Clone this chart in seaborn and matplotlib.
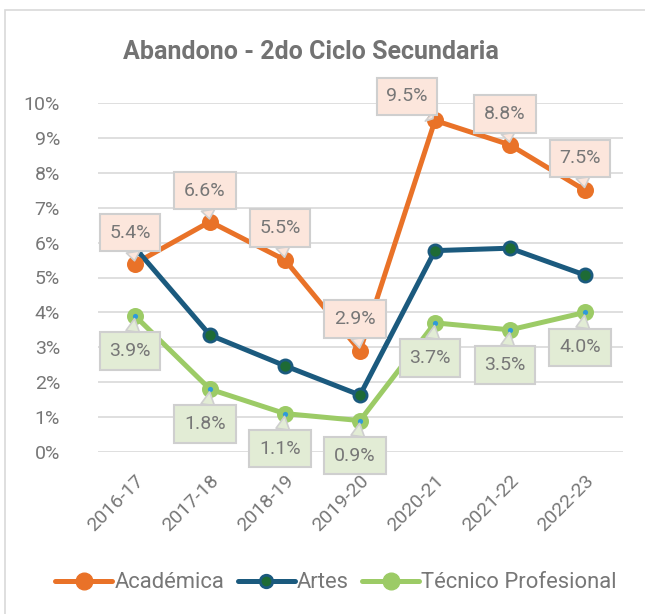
import matplotlib
matplotlib.use("Agg")
import matplotlib.pyplot as plt
import seaborn as sns
import pandas as pd
from matplotlib.patches import Rectangle
from matplotlib.lines import Line2D

years = ["2016-17", "2017-18", "2018-19", "2019-20", "2020-21", "2021-22", "2022-23"]
academica = [5.4, 6.6, 5.5, 2.9, 9.5, 8.8, 7.5]
artes = [5.85, 3.35, 2.47, 1.63, 5.77, 5.84, 5.07]
tecnico = [3.9, 1.8, 1.1, 0.9, 3.7, 3.5, 4.0]
series_names = ["Académica", "Artes", "Técnico Profesional"]

sns.set_theme(style="white")
plt.rcParams['font.family'] = ['Roboto', 'DejaVu Sans']

GRAY = "#777777"
C_ACA = "#E97228"
C_ART = "#1B5A7E"
C_TEC = "#9CCB66"

df = pd.DataFrame({
    "year": years * 3,
    "x": list(range(len(years))) * 3,
    "value": academica + artes + tecnico,
    "serie": [series_names[0]] * 7 + [series_names[1]] * 7 + [series_names[2]] * 7,
})

fig = plt.figure(figsize=(6.45, 6.14), dpi=100)
ax = fig.add_axes([97.5 / 645, 1 - 452 / 614, 525 / 645, (452 - 103) / 614])

# gridlines
for v in range(0, 11):
    ax.axhline(v, color="#D9D9D9", lw=1.2, zorder=0)

palette = {series_names[0]: C_ACA, series_names[1]: C_ART, series_names[2]: C_TEC}
sns.lineplot(data=df, x="x", y="value", hue="serie", palette=palette, lw=3.6,
             ax=ax, legend=False, zorder=2)
for line in ax.get_lines()[-3:]:
    line.set_solid_capstyle("round")
    line.set_clip_on(False)

# markers
ax.scatter(range(7), academica, s=150, color=C_ACA, zorder=3, clip_on=False, linewidths=0)
ax.scatter(range(7), artes, s=90, color="#1E6B35", edgecolors=C_ART, linewidths=2, zorder=3, clip_on=False)
ax.scatter(range(7), tecnico, s=150, color=C_TEC, zorder=3, clip_on=False, linewidths=0)
ax.scatter(range(7), tecnico, s=14, color="#2E9AD9", zorder=4, clip_on=False, linewidths=0)

ax.set_xlim(-0.5, 6.5)
ax.set_ylim(0, 10)
ax.set_yticks(range(0, 11))
ax.set_yticklabels([f"{v}%" for v in range(0, 11)], color=GRAY, fontsize=14)
ax.set_xticks(range(7))
ax.set_xticklabels(years, rotation=45, ha="right", rotation_mode="anchor",
                   color=GRAY, fontsize=14)
ax.tick_params(axis="x", pad=14, length=0)
ax.tick_params(axis="y", pad=27, length=0)
for s in ax.spines.values():
    s.set_visible(False)
ax.set_xlabel("")
ax.set_ylabel("")

# callouts (offsets in pixels)
def callout(x, y, txt, dx, dy, fc):
    ax.annotate(txt, xy=(x, y), xytext=(dx * 0.72, dy * 0.72), textcoords="offset points",
                ha="center", va="center", fontsize=14, color=GRAY, zorder=6,
                bbox=dict(boxstyle="square,pad=0.5", fc=fc, ec="#CFCFCF", lw=1.5),
                arrowprops=dict(arrowstyle="wedge,tail_width=0.7,shrink_factor=0.5",
                                fc=fc, ec="#CFCFCF", lw=1.2, shrinkA=0, shrinkB=2))

aca_off = [(-5, 31), (-5, 31), (-5, 32), (-5, 32), (-28, 24), (-5, 31), (-5, 32)]
for i, v in enumerate(academica):
    callout(i, v, f"{v:.1f}%", *aca_off[i], "#FCE6DC")
for i, v in enumerate(tecnico):
    callout(i, v, f"{v:.1f}%", -5, -35, "#E2ECD5")

fig.text(311 / 645, 1 - 52 / 614, "Abandono - 2do Ciclo Secundaria", ha="center",
         va="center", fontsize=18, fontweight="bold", color="#737373")

# legend
handles = [
    Line2D([0], [0], color=C_ACA, lw=3.6, marker="o", ms=12, mfc=C_ACA, mec=C_ACA),
    Line2D([0], [0], color=C_ART, lw=3.6, marker="o", ms=9, mfc="#1E6B35", mec=C_ART, mew=2),
    Line2D([0], [0], color=C_TEC, lw=3.6, marker="o", ms=12, mfc=C_TEC, mec=C_TEC),
]
leg = fig.legend(handles, series_names, loc="center", bbox_to_anchor=(336 / 645, 1 - 583 / 614),
                 ncol=3, frameon=False, fontsize=15.8, handlelength=2.6, handletextpad=0.1,
                 columnspacing=0.6, labelcolor=GRAY)

fig.patches.append(Rectangle((5 / 645, -0.1), 1.2, 1 - 10 / 614 + 0.1, transform=fig.transFigure,
                             fill=False, ec="#D9D9D9", lw=1.2))

fig.savefig("out.png", dpi=100)
